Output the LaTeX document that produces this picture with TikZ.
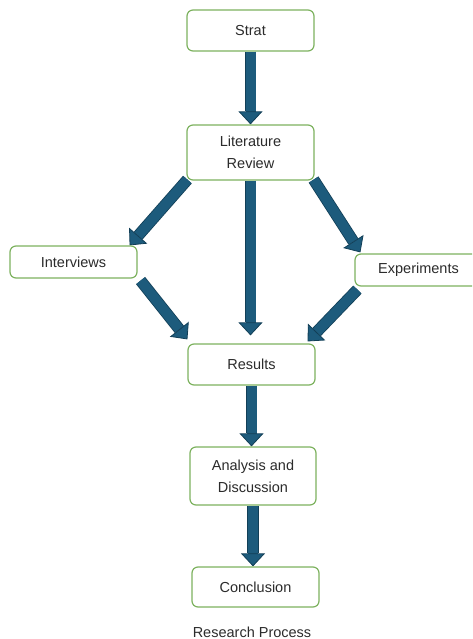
\documentclass[tikz,border=0pt]{standalone}
\usepackage{fontspec}
\setmainfont{Liberation Sans}
\usetikzlibrary{arrows.meta,calc,backgrounds}
\definecolor{boxgreen}{HTML}{7DB25F}
\definecolor{arrowc}{HTML}{1D5B7C}
\definecolor{arrowdk}{HTML}{123F57}
\definecolor{txt}{HTML}{2B2B2B}
\begin{document}
\begin{tikzpicture}[x=1pt,y=-1pt,
  box/.style={draw=boxgreen, line width=1.2pt, rounded corners=6pt, fill=white,
    text=txt, align=center, font=\fontsize{14.5}{22}\selectfont,
    minimum width=127pt, inner sep=0pt},
  flow/.style={line width=10pt, draw=arrowc,
    -{Triangle[width=24pt,length=13pt,fill=arrowc,color=arrowdk,line width=0.8pt]},
    preaction={draw=arrowdk, line width=11.6pt, -, shorten >=13pt}}]
\useasboundingbox (0,0) rectangle (472,639);
\begin{scope}
\clip (0,0) rectangle (472,639);
\node[box, minimum height=41pt] (strat) at (250.5,30.5) {Strat};
\node[box, minimum height=55pt] (lit) at (250.5,152.5) {Literature\\Review};
\node[box, minimum height=32pt] (int) at (73.5,262) {Interviews};
\node[box, minimum height=32pt] (exp) at (418.5,270) {Experiments};
\node[box, minimum height=41pt] (res) at (251.5,364.5) {Results};
\node[box, minimum height=58pt, minimum width=126pt] (ana) at (253,476) {Analysis and\\Discussion};
\node[box, minimum height=40pt] (con) at (255.5,587) {Conclusion};
\node[text=txt, font=\fontsize{14.5}{17}\selectfont] (cap) at (252,632) {Research Process};
\end{scope}
\begin{scope}[on background layer]
\draw[flow] (strat.south) -- (lit.north);
\draw[flow] ($(lit.south west)+(1,-1)$) -- ($(int.north east)+(-8,0)$);
\draw[flow] (lit.south) -- ($(lit.south |- res.north)+(0,-8)$);
\draw[flow] ($(lit.south east)+(-1,-1)$) -- ($(exp.north west)+(6,-1)$);
\draw[flow] ($(int.south east)+(3,2)$) -- ($(res.north west)+(0,-4)$);
\draw[flow] ($(exp.south west)+(3,3)$) -- ($(res.north east)+(-8,-2)$);
\draw[flow] (res.south) -- (res.south |- ana.north);
\draw[flow] (ana.south) -- (ana.south |- con.north);
\end{scope}
\end{tikzpicture}
\end{document}
